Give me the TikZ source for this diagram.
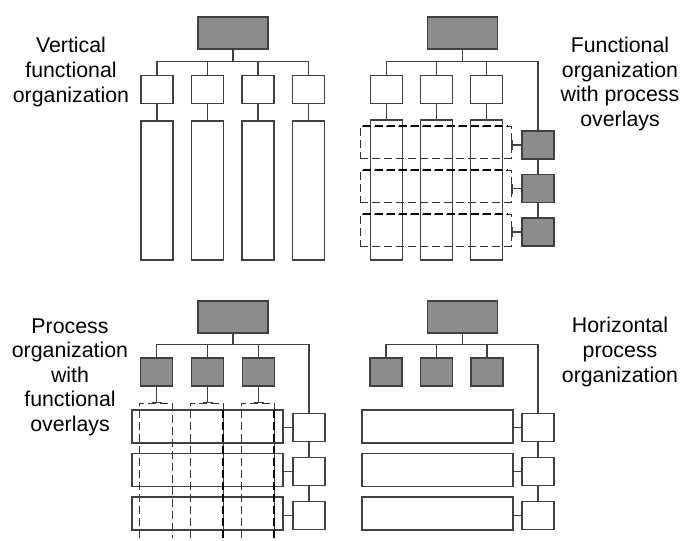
\documentclass[tikz,border=0pt]{standalone}
\usepackage{fontspec}
\setmainfont{Liberation Sans}
\usetikzlibrary{arrows.meta, positioning, calc}

\begin{document}
\begin{tikzpicture}[x=0.75pt, y=-0.75pt,
    box/.style={draw=black!75, line width=0.9pt, inner sep=0pt, minimum width=32*0.75pt, minimum height=28*0.75pt},
    darkbox/.style={box, fill=black!45},
    head/.style={darkbox, minimum width=70*0.75pt, minimum height=32*0.75pt},
    tallbox/.style={box, minimum height=139*0.75pt},
    rowbox/.style={box, minimum width=151*0.75pt, minimum height=33*0.75pt},
    dashline/.style={draw=black!80, line width=0.6pt, dash pattern=on 6pt off 3pt},
    dashbox/.style={dashline, inner sep=0pt, minimum width=151*0.75pt, minimum height=32*0.75pt},
    thickdash/.style={draw=black, line width=1.6pt, dash pattern=on 6pt off 3pt},
    link/.style={draw=black!75, line width=0.9pt},
    desc/.style={align=center, font=\fontsize{16}{18.4}\selectfont}]
    \useasboundingbox (0,0) rectangle (682,540);

    % Organizzazione funzionale verticale
    \node[head] (vtop) at (233,33) {};
    \foreach \i in {1,...,4} {
        \node[box] (vf\i) at ({157+50.5*(\i-1)},89.5) {};
        \node[tallbox] (vt\i) at ({157+50.5*(\i-1)},190.5) {};
        \draw[link] (vf\i) -- (vt\i);
    }
    \draw[link] (vtop.south) -- ++(0,12) coordinate (vbar);
    \foreach \i in {1,...,4} \draw[link] (vbar) -| (vf\i.north);
    \node[desc] (vlab) at (71,72) {Vertical\\functional\\organization};

    % Funzionale con processi sovrapposti
    \node[head] (ftop) at (462.5,33) {};
    \foreach \i in {1,2,3} {
        \node[box] (ff\i) at ({386.5+50*(\i-1)},89.5) {};
        \node[tallbox, minimum height=140*0.75pt] (ft\i) at ({386.5+50*(\i-1)},190) {};
        \draw[link] (ff\i) -- (ft\i);
        \node[darkbox] (fp\i) at (538,{145+43.5*(\i-1)}) {};
        \node[dashbox] (fd\i) at (435.5,{142+44*(\i-1)}) {};
        \draw[thickdash] ($(fd\i.north west)+(3,0)$) -- ($(fd\i.north east)+(-3,0)$);
        \draw[link, {Bar[width=7.5pt]}-] (fd\i.east |- fp\i) -- (fp\i.west);
    }
    \draw[link] (ftop.south) -- ++(0,12) coordinate (fbar);
    \foreach \i in {1,2,3} \draw[link] (fbar) -| (ff\i.north);
    \draw[link] (fbar) -| (fp1.north);
    \draw[link] (fp1) -- (fp2);
    \draw[link] (fp2) -- (fp3);
    \node[desc] (flab) at (620,84) {Functional\\organization\\with process\\overlays};

    % Processi con funzioni sovrapposte
    \node[head] (ptop) at (233,317) {};
    \foreach \i in {1,2,3} {
        \node[darkbox] (pf\i) at ({156.5+51*(\i-1)},372) {};
        \node[rowbox] (pr\i) at (207.5,{426.5+43.5*(\i-1)}) {};
        \node[box] (pp\i) at (309,{427.5+44*(\i-1)}) {};
        \draw[link] (pr\i.east |- pp\i) -- (pp\i.west);
        \coordinate (pc\i) at ({155.5+51*(\i-1)},403);
        \draw[dashline] ($(pc\i)+(-16.5,135)$) |- ($(pc\i)+(16.5,0)$) -- ++(0,135);
        \draw[link, -{Bar[width=7.5pt]}] (pf\i) -- (pf\i |- pc\i);
    }
    \foreach \i in {2,3} \draw[thickdash] ($(pc\i)+(16.5,7)$) -- ++(0,128);
    \draw[link] (ptop.south) -- ++(0,11) coordinate (pbar);
    \foreach \i in {1,2,3} \draw[link] (pbar) -| (pf\i.north);
    \draw[link] (pbar) -| (pp1.north);
    \draw[link] (pp1) -- (pp2);
    \draw[link] (pp2) -- (pp3);
    \node[desc] (plab) at (70,377) {Process\\organization\\with\\functional\\overlays};

    % Organizzazione orizzontale per processi
    \node[head] (htop) at (462.5,317) {};
    \foreach \i in {1,2,3} {
        \node[darkbox] (hf\i) at ({386+50.5*(\i-1)},372) {};
        \node[rowbox] (hr\i) at (437.5,{426.5+43.5*(\i-1)}) {};
        \node[box] (hp\i) at (538,{427.5+44*(\i-1)}) {};
        \draw[link] (hr\i.east |- hp\i) -- (hp\i.west);
    }
    \draw[link] (htop.south) -- ++(0,11) coordinate (hbar);
    \foreach \i in {1,2,3} \draw[link] (hbar) -| (hf\i.north);
    \draw[link] (hbar) -| (hp1.north);
    \draw[link] (hp1) -- (hp2);
    \draw[link] (hp2) -- (hp3);
    \node[desc] (hlab) at (620,352) {Horizontal\\process\\organization};
\end{tikzpicture}
\end{document}
